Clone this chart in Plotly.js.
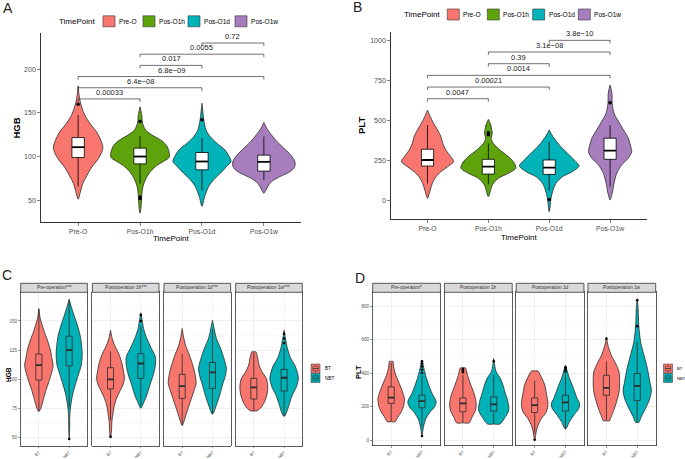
<!DOCTYPE html>
<html><head><meta charset="utf-8">
<script src="https://cdn.plot.ly/plotly-3.0.1.min.js"></script>
<style>html,body{margin:0;padding:0;background:#fff}#chart{width:685px;height:459px}</style>
</head><body><div id="chart"></div>
<script>
// ================= DATA =================
const timePoints = ['Pre-O', 'Pos-O1h', 'Pos-O1d', 'Pos-O1w'];
const groups = ['BT', 'NBT'];
const facetHGB = ['Pre-operation***', 'Postoperation 1h***', 'Postoperation 1d***', 'Postoperation 1w***'];
const facetPLT = ['Pre-operation*', 'Postoperation 1h', 'Postoperation 1d', 'Postoperation 1w'];

// --- Panel A: HGB by time point (violin profile: levels and half-widths) ---
const hgbPreO_y  = [51, 59, 69, 78, 88, 95, 103, 110.5, 118, 128, 137, 148.5, 161, 170, 181];
const hgbPreO_w  = [0, 0.035, 0.075, 0.14, 0.22, 0.30, 0.37, 0.40, 0.37, 0.30, 0.20, 0.10, 0.04, 0.016, 0];
const hgbO1h_y   = [35, 45, 55, 65, 74, 82, 89.6, 95.3, 99, 105, 112.4, 118, 124, 129.5, 135, 141, 147, 157];
const hgbO1h_w   = [0, 0.02, 0.027, 0.045, 0.09, 0.16, 0.27, 0.40, 0.47, 0.47, 0.43, 0.35, 0.21, 0.10, 0.055, 0.035, 0.03, 0];
const hgbO1d_y   = [43, 54.5, 66, 73.5, 81, 88.7, 94.4, 100, 107.7, 115.3, 123, 130.5, 142, 161];
const hgbO1d_w   = [0, 0.045, 0.11, 0.19, 0.30, 0.40, 0.47, 0.44, 0.37, 0.24, 0.13, 0.065, 0.03, 0];
const hgbO1w_y   = [58, 66, 71.6, 77.3, 83, 88.7, 94.4, 102, 109.7, 117.3, 125, 132.5, 139];
const hgbO1w_w   = [0, 0.065, 0.13, 0.27, 0.43, 0.50, 0.50, 0.43, 0.32, 0.21, 0.12, 0.045, 0];
const hgbQ1  = [98.9, 91.6, 84.8, 83.3];
const hgbMed = [110.7, 100, 94.3, 93.9];
const hgbQ3  = [121.7, 109.6, 104.6, 101.6];
const hgbLo  = [65.7, 68.8, 61, 73.3];
const hgbHi  = [147.6, 123.7, 121, 122.9];
const hgbOutCat = ['Pre-O', 'Pos-O1h', 'Pos-O1h', 'Pos-O1h', 'Pos-O1d'];
const hgbOutVal = [160, 140, 52, 53.5, 142];
const hgbPairs  = [['Pre-O','Pos-O1h'], ['Pre-O','Pos-O1d'], ['Pre-O','Pos-O1w'], ['Pos-O1h','Pos-O1d'], ['Pos-O1h','Pos-O1w'], ['Pos-O1d','Pos-O1w']];
const hgbPLabels = ['0.00033', '6.4e\u221208', '6.8e\u221209', '0.017', '0.0055', '0.72'];
const hgbPLevels = [166, 178.8, 191.6, 204.4, 217.2, 230];

// --- Panel B: PLT by time point ---
const pltPreO_y = [12.5, 65, 106, 148, 179, 210, 242, 273, 315, 356, 398, 440, 481, 523, 564];
const pltPreO_w = [0, 0.045, 0.08, 0.14, 0.22, 0.33, 0.43, 0.38, 0.30, 0.25, 0.22, 0.165, 0.10, 0.045, 0];
const pltO1h_y  = [23, 96, 138, 169, 200, 231, 273, 315, 356, 388, 419, 440, 471, 506];
const pltO1h_w  = [0, 0.065, 0.165, 0.33, 0.45, 0.43, 0.33, 0.19, 0.08, 0.045, 0.065, 0.055, 0.04, 0];
const pltO1d_y  = [-71, 13, 54, 106, 148, 179, 215, 252, 294, 335, 377, 408, 440];
const pltO1d_w  = [0, 0.03, 0.055, 0.11, 0.22, 0.38, 0.49, 0.41, 0.30, 0.19, 0.10, 0.045, 0];
const pltO1w_y  = [2, 44, 106, 169, 221, 263, 304, 335, 388, 440, 492, 544, 606, 669, 721];
const pltO1w_w  = [0, 0.035, 0.065, 0.11, 0.19, 0.30, 0.355, 0.34, 0.30, 0.22, 0.14, 0.065, 0.035, 0.03, 0];
const pltQ1  = [214, 164, 162, 256];
const pltMed = [252, 210, 204, 310];
const pltQ3  = [319, 256, 252, 388];
const pltLo  = [106, 100, 60, 85];
const pltHi  = [470, 356, 365, 470];
const pltOutCat = ['Pos-O1h', 'Pos-O1h', 'Pos-O1d', 'Pos-O1w'];
const pltOutVal = [410, 422, 5, 610];
const pltPairs  = [['Pre-O','Pos-O1h'], ['Pre-O','Pos-O1d'], ['Pre-O','Pos-O1w'], ['Pos-O1h','Pos-O1d'], ['Pos-O1h','Pos-O1w'], ['Pos-O1d','Pos-O1w']];
const pltPLabels = ['0.0047', '0.00021', '0.0014', '0.39', '3.1e\u221208', '3.8e\u221210'];
const pltPLevels = [635, 708, 781, 854, 927, 1000];

// --- Panel C: HGB by group within each time point (facet order, BT then NBT) ---
const cPreBT_y  = [72.4, 75.3, 81, 89.5, 98, 106.5, 112.2, 117.9, 125, 132.1, 139.2, 146.3, 152, 160.5];
const cPreBT_w  = [0, 0.065, 0.13, 0.22, 0.33, 0.43, 0.47, 0.43, 0.38, 0.30, 0.20, 0.11, 0.045, 0];
const cPreNBT_y = [49.7, 58.2, 69.6, 78.1, 86.6, 95.2, 103.7, 112.2, 120.7, 129.3, 137.8, 146.3, 154.8, 163.4, 168.5];
const cPreNBT_w = [0, 0.015, 0.02, 0.055, 0.11, 0.20, 0.30, 0.40, 0.43, 0.41, 0.36, 0.27, 0.16, 0.055, 0];
const c1hBT_y   = [49.7, 55.4, 63.9, 72.4, 78.1, 83.8, 89.5, 95.2, 100.9, 106.5, 112.2, 117.9, 123.6, 129.3, 134.9, 142];
const c1hBT_w   = [0, 0.03, 0.045, 0.09, 0.13, 0.20, 0.30, 0.41, 0.46, 0.43, 0.39, 0.33, 0.24, 0.13, 0.055, 0];
const c1hNBT_y  = [75.3, 81, 86.6, 95.2, 103.7, 112.2, 119.3, 126.4, 134.9, 143.5, 150.6, 157];
const c1hNBT_w  = [0, 0.11, 0.20, 0.30, 0.41, 0.48, 0.48, 0.35, 0.20, 0.09, 0.045, 0];
const c1dBT_y   = [60.5, 63.9, 72.4, 81, 89.5, 96.6, 103.7, 112.2, 120.7, 129.3, 136.4, 143.5];
const c1dBT_w   = [0, 0.055, 0.16, 0.27, 0.38, 0.46, 0.43, 0.35, 0.24, 0.11, 0.045, 0];
const c1dNBT_y  = [70.2, 78.1, 86.6, 95.2, 103.7, 109.4, 117.9, 126.4, 135, 143.5, 150.6];
const c1dNBT_w  = [0, 0.13, 0.24, 0.33, 0.43, 0.46, 0.38, 0.27, 0.13, 0.055, 0];
const c1wBT_y   = [73, 73, 75.3, 79.5, 86.6, 93.8, 100.9, 106.5, 112.2, 117.9, 122.2, 123.6, 123.6];
const c1wBT_w   = [0, 0.10, 0.22, 0.33, 0.43, 0.46, 0.41, 0.27, 0.17, 0.13, 0.09, 0.07, 0];
const c1wNBT_y  = [68.2, 72.4, 78.1, 86.6, 93.8, 100.9, 106.5, 112.2, 117.9, 126.4, 134.9, 142];
const c1wNBT_w  = [0, 0.09, 0.16, 0.27, 0.41, 0.47, 0.43, 0.35, 0.22, 0.11, 0.045, 0];
const cQ1  = [99.4, 111.5, 91.8, 100.9, 83.8, 92.3, 83.2, 90];
const cMed = [112.2, 125, 100, 113.6, 94.3, 106, 93.2, 101.4];
const cQ3  = [121.6, 137, 110, 122, 104.3, 114.5, 100.9, 108.5];
const cLo  = [73, 76, 65, 77, 61, 71, 73, 69];
const cHi  = [160, 168, 124, 146, 122, 143, 123, 127];
const cOutFacet = [0, 1, 1, 1, 3, 3, 3];
const cOutGroup = ['NBT', 'BT', 'NBT', 'NBT', 'NBT', 'NBT', 'NBT'];
const cOutVal   = [49, 51, 150, 155, 131, 135, 139];

// --- Panel D: PLT by group within each time point ---
const dPreBT_y  = [110, 110, 139, 169, 209, 248, 298, 348, 387, 427, 463, 470, 470];
const dPreBT_w  = [0, 0.13, 0.22, 0.33, 0.41, 0.43, 0.35, 0.24, 0.15, 0.09, 0.065, 0.06, 0];
const dPreNBT_y = [30, 80, 129, 169, 199, 229, 278, 318, 367, 407, 447, 477];
const dPreNBT_w = [0, 0.05, 0.13, 0.27, 0.41, 0.46, 0.33, 0.24, 0.15, 0.09, 0.04, 0];
const d1hBT_y   = [103, 103, 139, 179, 219, 268, 308, 348, 387, 417, 431, 431];
const d1hBT_w   = [0, 0.2, 0.30, 0.41, 0.43, 0.38, 0.30, 0.22, 0.15, 0.11, 0.08, 0];
const d1hNBT_y  = [96, 96, 139, 179, 229, 278, 328, 367, 407, 447, 486];
const d1hNBT_w  = [0, 0.2, 0.38, 0.49, 0.46, 0.38, 0.30, 0.22, 0.08, 0.03, 0];
const d1dBT_y   = [0, 50, 90, 129, 169, 219, 278, 328, 367, 407, 413, 413];
const d1dBT_w   = [0, 0.05, 0.11, 0.22, 0.38, 0.43, 0.38, 0.33, 0.24, 0.13, 0.10, 0];
const d1dNBT_y  = [66, 110, 149, 189, 219, 248, 288, 328, 367, 417, 447];
const d1dNBT_w  = [0, 0.13, 0.27, 0.43, 0.46, 0.38, 0.30, 0.22, 0.13, 0.05, 0];
const d1wBT_y   = [115, 115, 129, 169, 229, 288, 348, 407, 457, 506, 566, 615];
const d1wBT_w   = [0, 0.10, 0.13, 0.22, 0.33, 0.41, 0.43, 0.41, 0.30, 0.16, 0.05, 0];
const d1wNBT_y  = [105, 105, 139, 189, 248, 298, 348, 427, 506, 586, 685, 784, 844];
const d1wNBT_w  = [0, 0.05, 0.13, 0.27, 0.41, 0.46, 0.41, 0.33, 0.22, 0.11, 0.05, 0.03, 0];
const dQ1  = [219, 193, 169, 173, 165, 173, 268, 237];
const dMed = [254, 233, 219, 213, 209, 225, 312, 324];
const dQ3  = [318, 268, 252, 258, 252, 268, 387, 397];
const dLo  = [110, 80, 105, 96, 40, 70, 120, 110];
const dHi  = [460, 385, 390, 390, 355, 395, 470, 586];
const dOutFacet = [0, 0, 0, 0, 0, 0, 1, 1, 1, 1, 2, 2, 2, 2, 3, 3, 3];
const dOutGroup = ['NBT','NBT','NBT','NBT','NBT','NBT','BT','BT','BT','NBT','BT','NBT','NBT','NBT','BT','NBT','NBT'];
const dOutVal   = [400, 420, 440, 458, 470, 25, 405, 415, 425, 470, 2, 410, 425, 435, 605, 680, 835];

// ================= STYLE =================
const F = 'Liberation Sans, Arial, Helvetica, sans-serif';
const W = 685, H = 459;
const tpColors = ['#F8766D', '#5EA30C', '#00B3B8', '#A77DBE'];
const grpColors = ['#F8766D', '#00B2B7'];
const PX = v => v / W, PY = v => 1 - v / H;

const traces = [], shapes = [], annotations = [];
const layout = {
  width: W, height: H, margin: {l: 0, r: 0, t: 0, b: 0},
  paper_bgcolor: '#fff', plot_bgcolor: 'rgba(0,0,0,0)',
  showlegend: false, font: {family: F, color: '#000'}
};

function violin(xa, ya, c, ys, ws, color) {
  const xs = [], yy = [];
  for (let i = 0; i < ys.length; i++) { xs.push(c + ws[i]); yy.push(ys[i]); }
  for (let i = ys.length - 1; i >= 0; i--) { xs.push(c - ws[i]); yy.push(ys[i]); }
  traces.push({type: 'scatter', mode: 'lines', x: xs, y: yy, xaxis: xa, yaxis: ya,
    fill: 'toself', fillcolor: color, line: {color: '#2b2b2b', width: 0.8, shape: 'spline', smoothing: 0.8},
    hoverinfo: 'skip'});
}
// box drawn with scatter traces (so it stays above the violin fill)
function box(xa, ya, c, q1, med, q3, lo, hi, fill, bw, lc) {
  const h = bw / 2;
  traces.push({type: 'scatter', mode: 'lines', x: [c, c, null, c, c], y: [lo, q1, null, q3, hi], xaxis: xa, yaxis: ya,
    line: {color: lc, width: 0.8}, hoverinfo: 'skip'});
  traces.push({type: 'scatter', mode: 'lines', x: [c - h, c + h, c + h, c - h, c - h], y: [q1, q1, q3, q3, q1],
    xaxis: xa, yaxis: ya, fill: 'toself', fillcolor: fill, line: {color: lc, width: 0.8}, hoverinfo: 'skip'});
  traces.push({type: 'scatter', mode: 'lines', x: [c - h, c + h], y: [med, med], xaxis: xa, yaxis: ya,
    line: {color: lc, width: 1.8}, hoverinfo: 'skip'});
}
function points(xa, ya, xs, ys, size) {
  traces.push({type: 'scatter', mode: 'markers', x: xs, y: ys, xaxis: xa, yaxis: ya,
    marker: {color: '#000', size: size}, hoverinfo: 'skip'});
}
function text(x, y, t, size, opts) {
  annotations.push(Object.assign({xref: 'paper', yref: 'paper', x: PX(x), y: PY(y), text: t, showarrow: false,
    font: {family: F, size: size, color: '#000'}, xanchor: 'center', yanchor: 'middle'}, opts || {}));
}
function rectPx(x0, y0, x1, y1, fill, lc, lw) {
  shapes.push({type: 'rect', xref: 'paper', yref: 'paper', x0: PX(x0), x1: PX(x1), y0: PY(y1), y1: PY(y0),
    fillcolor: fill, line: {color: lc, width: lw}});
}
function linePx(x0, y0, x1, y1, lc, lw) {
  shapes.push({type: 'line', xref: 'paper', yref: 'paper', x0: PX(x0), x1: PX(x1), y0: PY(y0), y1: PY(y1),
    line: {color: lc, width: lw}});
}

// ---- classic axes for A and B ----
function classicAxes(n, xDom, yDom, yRange, yTicks) {
  const s = n === 1 ? '' : String(n);
  layout['xaxis' + s] = {domain: [PX(xDom[0]), PX(xDom[1])], range: [-0.6, 3.6], autorange: false, anchor: 'y' + s,
    tickvals: timePoints.map((_, i) => i), ticktext: timePoints, showline: true, linecolor: '#000', linewidth: 0.8,
    ticks: 'outside', ticklen: 3, tickwidth: 0.6, tickcolor: '#333', showgrid: false, zeroline: false,
    tickfont: {family: F, size: 6.8, color: '#4D4D4D'}, fixedrange: true};
  layout['yaxis' + s] = {domain: [PY(yDom[1]), PY(yDom[0])], range: yRange, autorange: false, anchor: 'x' + s,
    tickvals: yTicks, showline: true, linecolor: '#000', linewidth: 0.8,
    ticks: 'outside', ticklen: 3, tickwidth: 0.6, tickcolor: '#333', showgrid: false, zeroline: false,
    tickfont: {family: F, size: 7, color: '#4D4D4D'}, fixedrange: true};
}

function timePanel(n, profilesY, profilesW, q1, med, q3, lo, hi, outCat, outVal, pairs, pLabels, pLevels, tip) {
  const s = n === 1 ? '' : String(n);
  const xa = 'x' + s, ya = 'y' + s;
  timePoints.forEach((tp, i) => {
    violin(xa, ya, i, profilesY[i], profilesW[i], tpColors[i]);
    box(xa, ya, i, q1[i], med[i], q3[i], lo[i], hi[i], '#ffffff', 0.2, '#000');
  });
  points(xa, ya, outCat.map(c => timePoints.indexOf(c)), outVal, 3.5);
  pairs.forEach((p, k) => {
    const a = timePoints.indexOf(p[0]), b = timePoints.indexOf(p[1]), yv = pLevels[k];
    shapes.push({type: 'path', xref: xa, yref: ya, path: `M${a},${yv - tip} L${a},${yv} L${b},${yv} L${b},${yv - tip}`,
      line: {color: '#333', width: 0.7}});
    annotations.push({xref: xa, yref: ya, x: (a + b) / 2, y: yv, text: pLabels[k], showarrow: false,
      yanchor: 'bottom', yshift: 0, font: {family: F, size: 7.5, color: '#222'}});
  });
}

classicAxes(1, [41, 301], [33, 222], [25, 241.5], [50, 100, 150, 200]);
timePanel(1, [hgbPreO_y, hgbO1h_y, hgbO1d_y, hgbO1w_y], [hgbPreO_w, hgbO1h_w, hgbO1d_w, hgbO1w_w],
  hgbQ1, hgbMed, hgbQ3, hgbLo, hgbHi, hgbOutCat, hgbOutVal, hgbPairs, hgbPLabels, hgbPLevels, 3.5);
classicAxes(2, [391, 646.6], [31.7, 219], [-117, 1054], [0, 250, 500, 750, 1000]);
timePanel(2, [pltPreO_y, pltO1h_y, pltO1d_y, pltO1w_y], [pltPreO_w, pltO1h_w, pltO1d_w, pltO1w_w],
  pltQ1, pltMed, pltQ3, pltLo, pltHi, pltOutCat, pltOutVal, pltPairs, pltPLabels, pltPLevels, 19);

// ---- faceted panels C and D ----
function facetPanel(startN, xDoms, yDom, stripTop, yRange, yTicks, minorStep, profY, profW, q1, med, q3, lo, hi,
                    outFacet, outGroup, outVal, labels) {
  xDoms.forEach((xd, f) => {
    const n = startN + f, s = String(n), xa = 'x' + s, ya = 'y' + s;
    layout['xaxis' + s] = {domain: [PX(xd[0]), PX(xd[1])], range: [0.4, 2.6], autorange: false, anchor: ya,
      tickvals: [1, 2], ticktext: groups, tickangle: -45, showline: true, mirror: true, linecolor: '#333', linewidth: 0.8,
      ticks: 'outside', ticklen: 1.5, tickwidth: 0.5, tickcolor: '#333', showgrid: true, gridcolor: '#EBEBEB', gridwidth: 0.7,
      zeroline: false, tickfont: {family: F, size: 4.2, color: '#4D4D4D'}, fixedrange: true};
    layout['yaxis' + s] = {domain: [PY(yDom[1]), PY(yDom[0])], range: yRange, autorange: false, anchor: xa,
      tickvals: yTicks, showline: true, mirror: true, linecolor: '#333', linewidth: 0.8,
      ticks: f === 0 ? 'outside' : '', ticklen: 2, tickwidth: 0.5, tickcolor: '#333', showticklabels: f === 0,
      showgrid: true, gridcolor: '#EBEBEB', gridwidth: 0.7, zeroline: false,
      minor: {dtick: minorStep, tick0: 0, showgrid: true, gridcolor: '#EFEFEF', gridwidth: 0.4, ticks: ''},
      tickfont: {family: F, size: 4.5, color: '#4D4D4D'}, fixedrange: true};
    groups.forEach((g, gi) => {
      const k = f * 2 + gi;
      violin(xa, ya, gi + 1, profY[k], profW[k], grpColors[gi]);
      box(xa, ya, gi + 1, q1[k], med[k], q3[k], lo[k], hi[k], grpColors[gi], 0.2, '#2b2b2b');
    });
    const ox = [], oy = [];
    outVal.forEach((v, i) => { if (outFacet[i] === f) { ox.push(groups.indexOf(outGroup[i]) + 1); oy.push(v); } });
    points(xa, ya, ox, oy, 2.6);
    rectPx(xd[0], stripTop, xd[1], yDom[0], '#D9D9D9', '#333', 0.8);
    text((xd[0] + xd[1]) / 2, (stripTop + yDom[0]) / 2, labels[f], 4.8, {font: {family: F, size: 4.8, color: '#333'}});
  });
}

facetPanel(3, [[20.7, 87.35], [92.35, 159], [164, 230.65], [235.65, 302.3]], [292.3, 446], 283.3, [43, 174.5],
  [50, 75, 100, 125, 150], 12.5,
  [cPreBT_y, cPreNBT_y, c1hBT_y, c1hNBT_y, c1dBT_y, c1dNBT_y, c1wBT_y, c1wNBT_y],
  [cPreBT_w, cPreNBT_w, c1hBT_w, c1hNBT_w, c1dBT_w, c1dNBT_w, c1wBT_w, c1wNBT_w],
  cQ1, cMed, cQ3, cLo, cHi, cOutFacet, cOutGroup, cOutVal, facetHGB);
facetPanel(7, [[372.7, 440.45], [444.45, 512.2], [516.2, 583.95], [587.95, 655.7]], [292.3, 445.5], 283.3, [-32, 882],
  [0, 200, 400, 600, 800], 100,
  [dPreBT_y, dPreNBT_y, d1hBT_y, d1hNBT_y, d1dBT_y, d1dNBT_y, d1wBT_y, d1wNBT_y],
  [dPreBT_w, dPreNBT_w, d1hBT_w, d1hNBT_w, d1dBT_w, d1dNBT_w, d1wBT_w, d1wNBT_w],
  dQ1, dMed, dQ3, dLo, dHi, dOutFacet, dOutGroup, dOutVal, facetPLT);

// ---- titles, panel letters ----
text(8, 8, 'A', 14, {font: {family: F, size: 14, color: '#222'}});
text(357, 7, 'B', 14, {font: {family: F, size: 14, color: '#222'}});
text(7, 274.5, 'C', 14, {font: {family: F, size: 14, color: '#222'}});
text(360, 278, 'D', 14, {font: {family: F, size: 14, color: '#222'}});
text(16, 127.5, '<b>HGB</b>', 9.5, {textangle: -90});
text(171, 238.5, 'TimePoint', 8);
text(361, 125, '<b>PLT</b>', 9.5, {textangle: -90});
text(519, 237, 'TimePoint', 8);
text(8, 374, '<b>HGB</b>', 6.5, {textangle: -90});
text(358, 372, '<b>PLT</b>', 7.5, {textangle: -90});

// ---- legends for A and B ----
function tpLegend(titleX, cy, keyLefts) {
  text(titleX, cy, 'TimePoint', 8, {xanchor: 'left'});
  timePoints.forEach((tp, i) => {
    rectPx(keyLefts[i], cy - 5.5, keyLefts[i] + 12, cy + 5.5, tpColors[i], '#333', 0.6);
    text(keyLefts[i] + 14, cy, tp, 6.6, {xanchor: 'left'});
  });
}
tpLegend(57, 21.3, [103, 143, 188, 235]);
tpLegend(402, 14.5, [447.3, 487.3, 532.7, 578.3]);

// ---- legends for C and D ----
function grpLegend(x0, yTop, labelX, fs) {
  groups.forEach((g, i) => {
    const y0 = yTop + i * 9.5, y1 = y0 + 9, xm = x0 + 4.5;
    rectPx(x0, y0, x0 + 9, y1, grpColors[i], '#333', 0.5);
    linePx(xm, y0 + 0.8, xm, y1 - 0.8, '#333', 0.5);
    rectPx(x0 + 1.8, y0 + 2.3, x0 + 7.2, y1 - 2.3, grpColors[i], '#333', 0.5);
    linePx(x0 + 1.8, (y0 + y1) / 2, x0 + 7.2, (y0 + y1) / 2, '#333', 0.8);
    text(labelX, (y0 + y1) / 2, g, fs, {xanchor: 'left'});
  });
}
grpLegend(311, 364, 322.5, 4.6);
grpLegend(663.5, 364, 674.5, 4.2);

layout.shapes = shapes;
layout.annotations = annotations;
Plotly.newPlot('chart', traces, layout, {staticPlot: true, displayModeBar: false});
</script></body></html>
